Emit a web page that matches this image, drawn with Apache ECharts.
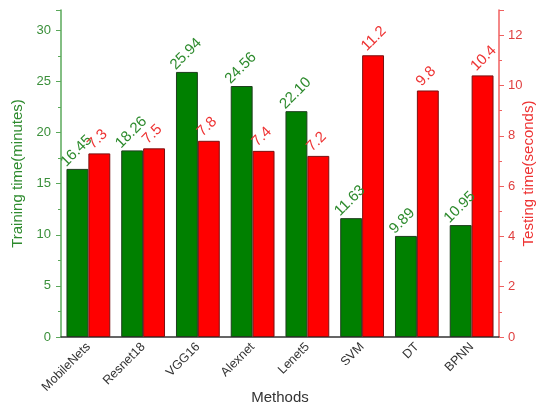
<!DOCTYPE html>
<html><head><meta charset="utf-8">
<script src="https://cdn.jsdelivr.net/npm/echarts@6/dist/echarts.min.js"></script>
<style>html,body{margin:0;padding:0;background:#fff}#c{width:546px;height:408px}</style>
</head><body><div id="c"></div>
<script>
var categories = ['MobileNets','Resnet18','VGG16','Alexnet','Lenet5','SVM','DT','BPNN'];
var trainingMinutes = [16.45, 18.26, 25.94, 24.56, 22.10, 11.63, 9.89, 10.95];
var testingSeconds = [7.3, 7.5, 7.8, 7.4, 7.2, 11.2, 9.8, 10.4];
var leftTicks = [0, 5, 10, 15, 20, 25, 30];
var rightTicks = [0, 2, 4, 6, 8, 10, 12];

var FONT = 'Liberation Sans, Arial, sans-serif';
var GREEN = '#008000', RED = '#ff0000';
var chart = echarts.init(document.getElementById('c'), null, {renderer: 'canvas'});
chart.setOption({
  backgroundColor: '#fff',
  animation: false,
  grid: {left: 61, right: 47, top: 10, bottom: 71, outerBoundsMode: 'none', containLabel: false},
  xAxis: {
    type: 'category', data: categories,
    name: 'Methods', nameLocation: 'middle', nameGap: 53, nameMoveOverlap: false,
    nameTextStyle: {fontFamily: FONT, fontSize: 15, color: '#333'},
    axisLine: {lineStyle: {color: '#333', width: 1.5}},
    axisTick: {alignWithLabel: true, length: 5, lineStyle: {color: '#333'}},
    axisLabel: {rotate: 45, fontFamily: FONT, fontSize: 12.5, color: '#333', margin: 8, interval: 0}
  },
  yAxis: [{
    type: 'value', min: 0, max: 32, interval: 5,
    name: 'Training time(minutes)', nameLocation: 'middle', nameGap: 36, nameMoveOverlap: false,
    nameTextStyle: {fontFamily: FONT, fontSize: 15, color: '#2e8b2e'},
    axisLine: {show: true, lineStyle: {color: '#5aa85a', width: 1.5}},
    axisTick: {show: true, length: 5, lineStyle: {color: '#5aa85a'}},
    minorTick: {show: true, splitNumber: 2, length: 3, lineStyle: {color: '#5aa85a'}},
    splitLine: {show: false},
    axisLabel: {fontFamily: FONT, fontSize: 13, color: '#3a8f3a', margin: 10,
      formatter: function(v){ return leftTicks.indexOf(v) >= 0 ? String(v) : ''; }}
  }, {
    type: 'value', min: 0, max: 13, interval: 2,
    name: 'Testing time(seconds)', nameLocation: 'middle', nameGap: 22, nameRotate: 90, nameMoveOverlap: false,
    nameTextStyle: {fontFamily: FONT, fontSize: 15, color: '#ee3333'},
    axisLine: {show: true, lineStyle: {color: '#f06060', width: 1.5}},
    axisTick: {show: true, length: 5, lineStyle: {color: '#f06060'}},
    minorTick: {show: true, splitNumber: 2, length: 3, lineStyle: {color: '#f06060'}},
    splitLine: {show: false},
    axisLabel: {fontFamily: FONT, fontSize: 13, color: '#e04040', margin: 9,
      formatter: function(v){ return rightTicks.indexOf(v) >= 0 ? String(v) : ''; }}
  }],
  series: [{
    type: 'bar', name: 'Training', data: trainingMinutes, yAxisIndex: 0,
    barGap: '0%', barCategoryGap: '20%',
    itemStyle: {color: GREEN, borderColor: '#1e3d1e', borderWidth: 1},
    label: {show: true, position: 'top', rotate: 45, align: 'left', verticalAlign: 'middle',
      distance: 6, offset: [-11, -9], fontFamily: FONT, fontSize: 15, color: '#2e8b2e',
      formatter: function(p){ return p.value.toFixed(2); }}
  }, {
    type: 'bar', name: 'Testing', data: testingSeconds, yAxisIndex: 1,
    barGap: '0%', barCategoryGap: '20%',
    itemStyle: {color: RED, borderColor: '#7a1010', borderWidth: 1},
    label: {show: true, position: 'top', rotate: 45, align: 'left', verticalAlign: 'middle',
      distance: 6, offset: [-6, -7], fontFamily: FONT, fontSize: 15, color: '#ee3333',
      formatter: function(p){ return p.value.toFixed(1); }}
  }]
});
</script></body></html>
